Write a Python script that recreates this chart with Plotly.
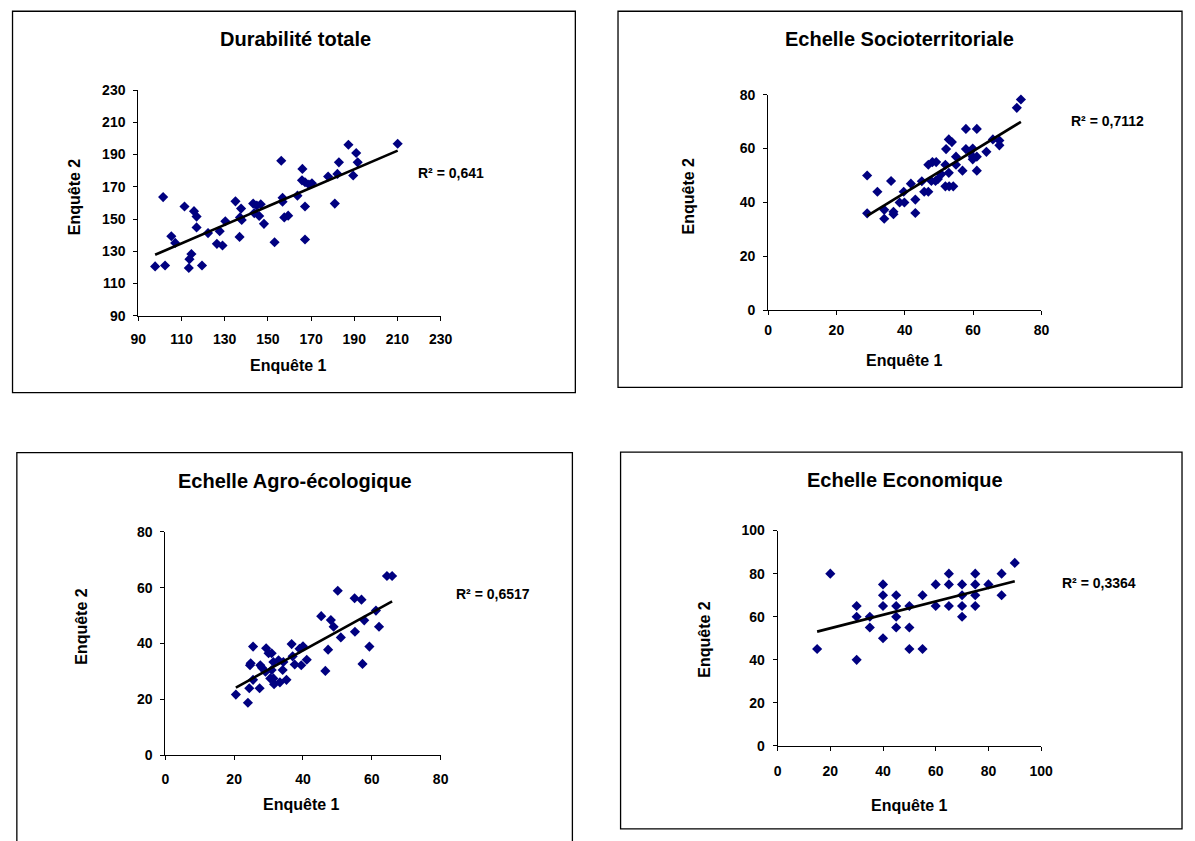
import numpy as np
import plotly.graph_objects as go

W, H = 1195, 841

# ---------------- data ----------------
dur_x = [97.8, 102.4, 101.5, 105.3, 107.1, 111.4, 114.6, 113.7, 113.4, 115.8, 117, 117, 119.5, 122.3,
         126.4, 127.7, 129, 130.3, 135, 137.6, 137.1, 136.9, 137.9, 143.2, 143.7, 144.9, 146, 146.7,
         148.2, 153.1, 156.2, 156.8, 156.8, 157.6, 159.4, 163.7, 166, 165.8, 167.2, 167.2, 167.2, 169,
         170.4, 177.9, 181, 182.2, 182.9, 187.3, 189.5, 190.9, 191.6, 210.1]
dur_y = [120.6, 121.2, 163.6, 139.3, 135.2, 157.8, 128.3, 125.1, 119.6, 154.9, 151.5, 144.8, 121.2, 141.3,
         134.6, 142.5, 133.6, 148.6, 161, 156.5, 151, 138.9, 149.4, 159.6, 153.7, 158.4, 151.9, 159.2,
         147, 135.6, 186.2, 163.2, 160.8, 151, 152.1, 164.5, 181.1, 174, 172.8, 157.8, 137.3, 171.4,
         172.2, 176.4, 159.6, 178, 185.2, 196.1, 177, 191, 185.2, 196.7]

soc_x = [29, 29, 32, 34, 34, 36, 36.7, 36.7, 38.5, 39.9, 39.7, 41.8, 43.1, 43.1, 45, 45.7, 46.9, 46.9,
         48.1, 49.2, 47.8, 49, 49.7, 50.7, 51.9, 52.1, 52.9, 53.8, 51.9, 53, 54.2, 52.9, 55, 55, 56.9,
         57.9, 61.1, 57.9, 59.1, 59.9, 59.9, 61.1, 59.9, 61.1, 63.9, 65.8, 67.7, 67.7, 72.8, 74]
soc_y = [50, 36, 44, 37.3, 34, 48, 36.6, 35.7, 40, 40, 44, 47, 41.1, 36.1, 47.9, 44, 44, 54,
         55, 55, 48, 48, 48.7, 50.5, 54, 59.8, 63.4, 62.4, 46, 46, 46, 51, 57, 54, 51.8,
         67.3, 67.3, 59.8, 58.8, 60, 57, 57, 56, 51.8, 58.8, 63.4, 63, 61.2, 75.1, 78.2]

agro_x = [20.5, 24, 24.4, 24.6, 24.8, 25.5, 25.5, 27.4, 27.6, 28.1, 29.3, 30, 30.9, 29.1, 30.5, 31.4,
          31.6, 33.3, 35.2, 31.4, 32.9, 34.3, 34.1, 30.9, 36.7, 37, 37.6, 39.5, 41.1, 39, 40, 46.5,
          45.3, 47.3, 48.1, 48.9, 50.1, 51, 55, 57, 55.1, 57.3, 57.8, 59.3, 61.2, 62.1, 64.4, 65.9]
agro_y = [21.7, 18.8, 24, 32.2, 32.9, 38.9, 27, 24, 32.2, 31.3, 38.3, 36.5, 36.5, 29.9, 27.5, 27.5,
          25.4, 26.1, 27, 33.4, 34, 33.4, 30.5, 30.5, 39.8, 35.4, 32.5, 32.2, 34.2, 38.1, 39, 30.2,
          49.8, 37.8, 48.4, 46, 58.9, 42.2, 56.2, 55.7, 44.2, 32.7, 48.3, 38.9, 51.8, 46, 64.2, 64.2]

eco_x = [15, 20, 30, 30, 30, 35, 35, 40, 40, 40, 40, 45, 45, 45, 45, 50, 50, 50, 55, 55, 60, 60,
         65, 65, 65, 70, 70, 70, 70, 75, 75, 75, 75, 80, 85, 85, 90]
eco_y = [45, 80, 65, 60, 40, 60, 55, 75, 70, 65, 50, 70, 65, 60, 55, 65, 55, 45, 70, 45, 75, 65,
         80, 75, 65, 75, 70, 65, 60, 80, 75, 70, 65, 75, 80, 70, 85]

titles = ["Durabilité totale", "Echelle Socioterritoriale", "Echelle Agro-écologique", "Echelle Economique"]
r2_labels = ["R² = 0,641", "R² = 0,7112", "R² = 0,6517", "R² = 0,3364"]
x_label = "Enquête 1"
y_label = "Enquête 2"
x_ranges = [(90, 230), (0, 80), (0, 80), (0, 100)]
y_ranges = [(90, 230), (0, 80), (0, 80), (0, 100)]
tick_step = 20

series = [(dur_x, dur_y), (soc_x, soc_y), (agro_x, agro_y), (eco_x, eco_y)]

# ---------------- layout geometry (pixels) ----------------
def fx(p):
    return p / W


def fy(p):
    return 1 - p / H


geom = [
    dict(xd=(132.5, 440), yd=(83.7, 313.7), title=(292, 31.7), xt=(285, 364), yt=(67, 192), r2=(451, 168),
         box=(4.6, 3.3, 577, 392), xstand=6),
    dict(xd=(773, 1051), yd=(88.3, 308.3), title=(907, 31.7), xt=(911.5, 359.3), yt=(692, 191.7), r2=(1118.6, 115),
         box=(620.4, 3.3, 1194, 386.7), xstand=3),
    dict(xd=(160, 440), yd=(534, 761.7), title=(291.4, 482.3), xt=(299, 812.3), yt=(74, 630), r2=(493.4, 597.7),
         box=(9, 453.3, 574, 880), xstand=7),
    dict(xd=(782.7, 1050.7), yd=(532.7, 752.3), title=(912, 480.7), xt=(916.5, 812.7), yt=(707.5, 643.3), r2=(1109.6, 586),
         box=(623, 452.7, 1194, 836.7), xstand=8),
]

FONT = "Liberation Sans, Arial, Helvetica, sans-serif"
NAVY = "#000080"

fig = go.Figure()
annotations = []
shapes = []
layout_axes = {}

for i, ((xs, ys), g) in enumerate(zip(series, geom)):
    n = "" if i == 0 else str(i + 1)
    xa, ya = "x" + n, "y" + n
    fig.add_trace(go.Scatter(x=xs, y=ys, mode="markers", xaxis=xa, yaxis=ya, showlegend=False,
                             marker=dict(symbol="diamond", size=7.8, color=NAVY, line=dict(width=0)),
                             cliponaxis=False))
    coef = np.polyfit(np.array(xs, float), np.array(ys, float), 1)
    tx = np.array([min(xs), max(xs)], float)
    fig.add_trace(go.Scatter(x=tx, y=np.polyval(coef, tx), mode="lines", xaxis=xa, yaxis=ya, showlegend=False,
                             line=dict(color="black", width=2.6)))
    axis_common = dict(showgrid=False, zeroline=False, showline=True, linecolor="black", linewidth=1,
                       ticks="outside", ticklen=4, tickcolor="black", tickwidth=1, dtick=tick_step,
                       tickfont=dict(family=FONT, size=14, color="black", weight="bold"), fixedrange=True)
    layout_axes["xaxis" + n] = dict(axis_common, domain=[fx(g["xd"][0]), fx(g["xd"][1])], range=list(x_ranges[i]),
                                    anchor=ya, tick0=x_ranges[i][0], ticklabelstandoff=g["xstand"])
    layout_axes["yaxis" + n] = dict(axis_common, domain=[fy(g["yd"][1]), fy(g["yd"][0])], range=list(y_ranges[i]),
                                    anchor=xa, tick0=y_ranges[i][0], ticklabelstandoff=5)
    annotations.append(dict(text=titles[i], x=fx(g["title"][0]), y=fy(g["title"][1]), xref="paper", yref="paper",
                            showarrow=False, xanchor="center", yanchor="middle",
                            font=dict(family=FONT, size=20, color="black", weight="bold")))
    annotations.append(dict(text=x_label, x=fx(g["xt"][0]), y=fy(g["xt"][1]), xref="paper", yref="paper",
                            showarrow=False, xanchor="center", yanchor="middle",
                            font=dict(family=FONT, size=16, color="black", weight="bold")))
    annotations.append(dict(text=y_label, x=fx(g["yt"][0]), y=fy(g["yt"][1]), xref="paper", yref="paper",
                            showarrow=False, xanchor="center", yanchor="middle", textangle=-90,
                            font=dict(family=FONT, size=16, color="black", weight="bold")))
    annotations.append(dict(text=r2_labels[i], x=fx(g["r2"][0]), y=fy(g["r2"][1]), xref="paper", yref="paper",
                            showarrow=False, xanchor="center", yanchor="middle",
                            font=dict(family=FONT, size=14, color="black", weight="bold")))
    x0, y0, x1, y1 = g["box"]
    shapes.append(dict(type="rect", xref="paper", yref="paper", x0=fx(x0), x1=fx(x1), y0=fy(y1), y1=fy(y0),
                       line=dict(color="black", width=1.3), fillcolor="rgba(0,0,0,0)", layer="below"))

fig.update_layout(width=W, height=H, margin=dict(l=0, r=0, t=0, b=0), paper_bgcolor="white",
                  plot_bgcolor="white", annotations=annotations, shapes=shapes, **layout_axes)

fig.write_html("out.html", config={"displayModeBar": False},
               post_script="document.body.style.margin='0px';document.body.style.overflow='hidden';")
